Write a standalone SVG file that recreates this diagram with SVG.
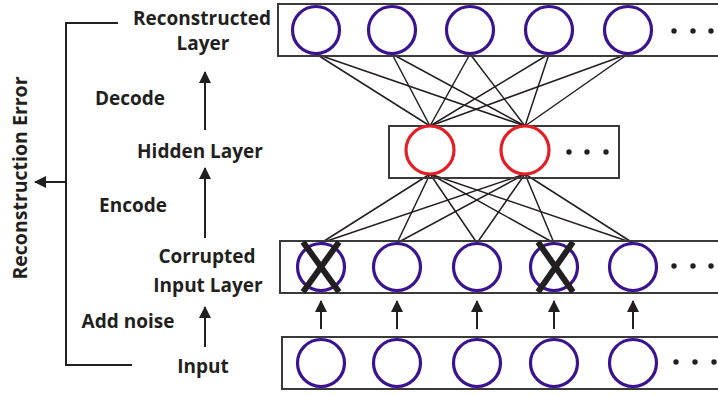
<svg xmlns="http://www.w3.org/2000/svg" width="718" height="396" viewBox="0 0 718 396">
<defs>
<marker id="ah" viewBox="0 0 12 12" refX="11" refY="6" markerWidth="12" markerHeight="12" markerUnits="userSpaceOnUse" orient="auto">
<path d="M0,0 L12,6 L0,12 Z" fill="#231f20"/>
</marker>
</defs>
<style>
.box{fill:none;stroke:#3a3a3a;stroke-width:2}
.n{fill:#fff;stroke:#3b1391;stroke-width:3.2}
.h{fill:#fff;stroke:#e31e24;stroke-width:3.2}
.dot{fill:#231f20}
.lbl{font-family:"Open Sans","Liberation Sans",sans-serif;font-weight:bold;font-size:19px;fill:#231f20;text-anchor:middle}
.c{stroke:#231f20;stroke-width:1.5;fill:none}
.ar{stroke:#231f20;stroke-width:2;fill:none}
.x{stroke:#231f20;stroke-width:6}
</style>
<rect width="718" height="396" fill="#fff"/>

<g id="connectors">
<g class="c">
<line x1="316" y1="54" x2="430" y2="126"/><line x1="316" y1="54" x2="525" y2="126"/>
<line x1="392" y1="54" x2="430" y2="126"/><line x1="392" y1="54" x2="525" y2="126"/>
<line x1="470" y1="54" x2="430" y2="126"/><line x1="470" y1="54" x2="525" y2="126"/>
<line x1="549" y1="54" x2="430" y2="126"/><line x1="549" y1="54" x2="525" y2="126"/>
<line x1="628" y1="54" x2="430" y2="126"/><line x1="628" y1="54" x2="525" y2="126"/>
<line x1="430" y1="174" x2="321" y2="243"/><line x1="525" y1="174" x2="321" y2="243"/>
<line x1="430" y1="174" x2="397" y2="243"/><line x1="525" y1="174" x2="397" y2="243"/>
<line x1="430" y1="174" x2="477" y2="243"/><line x1="525" y1="174" x2="477" y2="243"/>
<line x1="430" y1="174" x2="554" y2="243"/><line x1="525" y1="174" x2="554" y2="243"/>
<line x1="430" y1="174" x2="633" y2="243"/><line x1="525" y1="174" x2="633" y2="243"/>
</g>
<g class="ar" marker-end="url(#ah)">
<line x1="321" y1="329" x2="321" y2="301"/>
<line x1="397" y1="329" x2="397" y2="301"/>
<line x1="477" y1="329" x2="477" y2="301"/>
<line x1="554" y1="329" x2="554" y2="301"/>
<line x1="633" y1="329" x2="633" y2="301"/>
<line x1="205" y1="130" x2="205" y2="72"/>
<line x1="205" y1="238" x2="205" y2="168"/>
<line x1="205" y1="347" x2="205" y2="307"/>
<line x1="66" y1="182" x2="35" y2="182"/>
</g>
<polyline class="ar" points="118,23 66,23 66,365 132,365"/>
</g>

<g id="reconstructed-layer">
<rect class="box" x="278" y="4" width="445" height="52"/>
<circle class="n" cx="316" cy="30" r="23.5"/>
<circle class="n" cx="392" cy="30" r="23.5"/>
<circle class="n" cx="470" cy="30" r="23.5"/>
<circle class="n" cx="549" cy="30" r="23.5"/>
<circle class="n" cx="628" cy="30" r="23.5"/>
<circle class="dot" cx="674" cy="31" r="2.7"/><circle class="dot" cx="693" cy="31" r="2.7"/><circle class="dot" cx="711" cy="31" r="2.7"/>
</g>

<g id="hidden-layer">
<rect class="box" x="389" y="126" width="230" height="52"/>
<circle class="h" cx="430" cy="150" r="24"/>
<circle class="h" cx="525" cy="150" r="24"/>
<circle class="dot" cx="569" cy="152" r="2.7"/><circle class="dot" cx="587" cy="152" r="2.7"/><circle class="dot" cx="606" cy="152" r="2.7"/>
</g>

<g id="corrupted-layer">
<rect class="box" x="280" y="241" width="443" height="52"/>
<circle class="n" cx="321" cy="267" r="23.5"/>
<circle class="n" cx="397" cy="267" r="23.5"/>
<circle class="n" cx="477" cy="267" r="23.5"/>
<circle class="n" cx="554" cy="267" r="23.5"/>
<circle class="n" cx="633" cy="267" r="23.5"/>
<circle class="dot" cx="674" cy="266" r="2.7"/><circle class="dot" cx="693" cy="266" r="2.7"/><circle class="dot" cx="711" cy="266" r="2.7"/>
<line class="x" x1="303" y1="242" x2="339" y2="292"/><line class="x" x1="339" y1="242" x2="303" y2="292"/>
<line class="x" x1="538" y1="242" x2="573" y2="292"/><line class="x" x1="573" y1="242" x2="538" y2="292"/>
</g>

<g id="input-layer">
<rect class="box" x="282" y="337" width="441" height="52"/>
<circle class="n" cx="321" cy="363" r="23.5"/>
<circle class="n" cx="397" cy="363" r="23.5"/>
<circle class="n" cx="477" cy="363" r="23.5"/>
<circle class="n" cx="554" cy="363" r="23.5"/>
<circle class="n" cx="633" cy="363" r="23.5"/>
<circle class="dot" cx="676" cy="362" r="2.7"/><circle class="dot" cx="695" cy="362" r="2.7"/><circle class="dot" cx="714" cy="362" r="2.7"/>
</g>

<g id="labels">
<text class="lbl" x="202" y="25">Reconstructed</text>
<text class="lbl" x="203" y="50">Layer</text>
<text class="lbl" x="130" y="105">Decode</text>
<text class="lbl" x="200" y="158">Hidden Layer</text>
<text class="lbl" x="133" y="212">Encode</text>
<text class="lbl" x="207" y="263">Corrupted</text>
<text class="lbl" x="208" y="292">Input Layer</text>
<text class="lbl" x="128" y="328">Add noise</text>
<text class="lbl" x="203" y="373">Input</text>
<text class="lbl" transform="translate(27,178) rotate(-90)" style="font-size:19.5px">Reconstruction Error</text>
</g>
</svg>
